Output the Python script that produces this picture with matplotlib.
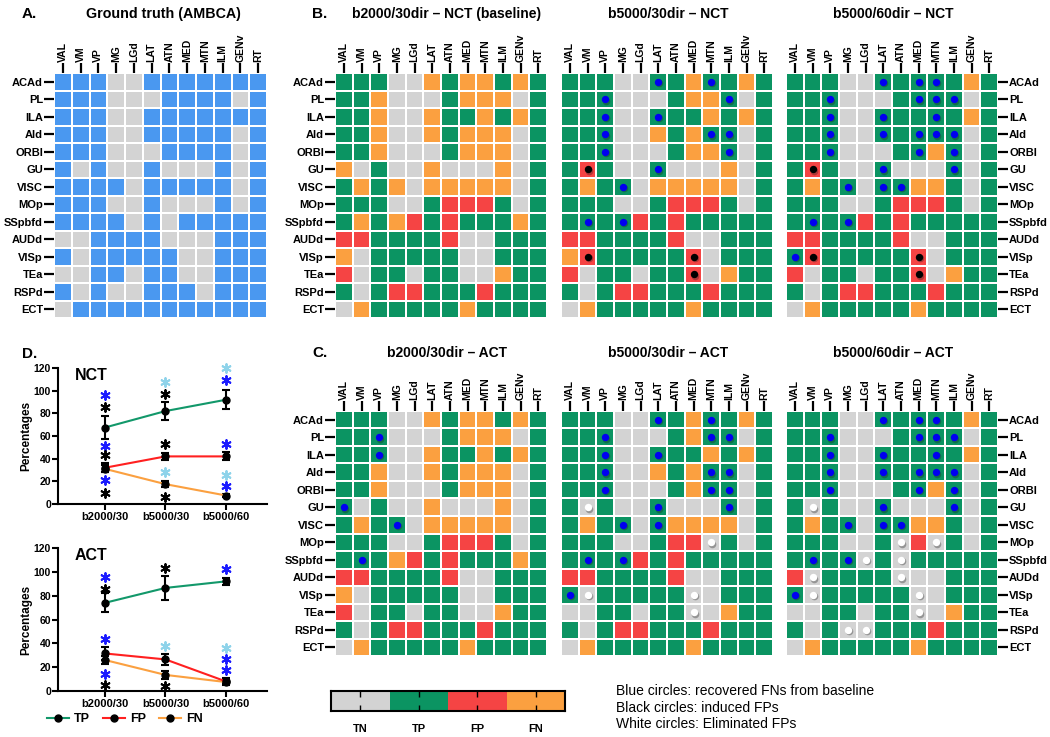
import numpy as np
import matplotlib.pyplot as plt
from matplotlib.colors import ListedColormap, BoundaryNorm
from matplotlib.lines import Line2D

plt.rcParams['font.family'] = ['Liberation Sans', 'DejaVu Sans']

W, H = 1050, 737

cols = ['VAL', 'VM', 'VP', 'MG', 'LGd', 'LAT', 'ATN', 'MED', 'MTN', 'ILM', 'GENv', 'RT']
rows = ['ACAd', 'PL', 'ILA', 'AId', 'ORBl', 'GU', 'VISC', 'MOp', 'SSpbfd',
        'AUDd', 'VISp', 'TEa', 'RSPd', 'ECT']

# ground truth (1 = projection present)
gt = ['111001111111', '111000111101', '111001111111', '111001111101',
      '111000111101', '101001000101', '111101111101', '111001000101',
      '111101011111', '001111000111', '101111100111', '001101100111',
      '101001110111', '011111111111']

# N = TN, P = TP, F = FP, O = FN
nct_2000_30 = ['PPPNNOPOOPOP', 'PPONNNPOOONP', 'PPONNOPPOPOP', 'PPONNOPOOONP',
               'PPONNNPOOONP', 'ONPNNONNNONP', 'POPONOOOOONP', 'PPPNNPFFFPNP',
               'POPOFPFPPPOP', 'FFPPPPFNNPPP', 'ONPPPPPNNPPP', 'FNPPNPPNNOPP',
               'PNPFFPPPFPPP', 'NOPPPPPOPPPP']
nct_5000_30 = ['PPPNNPPOPPOP', 'PPPNNNPOOPNP', 'PPPNNPPPOPOP', 'PPPNNOPOPPNP',
               'PPPNNNPOOPNP', 'PFPNNPNNNONP', 'POPPNOOOOONP', 'PPPNNPFFFPNP',
               'PPPPFPFPPPPP', 'FFPPPPFNNPPP', 'OFPPPPPFNPPP', 'FNPPNPPFNOPP',
               'PNPFFPPPFPPP', 'NOPPPPPOPPPP']
nct_5000_60 = ['PPPNNPPPPPOP', 'PPPNNNPPPPNP', 'PPPNNPPPPPOP', 'PPPNNPPPPPNP',
               'PPPNNNPPOPNP', 'PFPNNPNNNPNP', 'POPPNPPOOPNP', 'PPPNNPFFFPNP',
               'PPPPFPFPPPPP', 'FFPPPPFNNPPP', 'PFPPPPPFNPPP', 'FNPPNPPFNOPP',
               'PNPFFPPPFPPP', 'NOPPPPPOPPPP']
act_2000_30 = ['PPPNNOPOOPOP', 'PPPNNNPOOONP', 'PPPNNOPPOPOP', 'PPONNOPOOONP',
               'PPONNNPOOONP', 'PNPNNONNNONP', 'POPPNOOOOONP', 'PPPNNPFFFPNP',
               'PPPOFPFPPPOP', 'FFPPPPFNNPPP', 'ONPPPPPNNPPP', 'FNPPNPPNNOPP',
               'PNPFFPPPFPPP', 'NOPPPPPOPPPP']
act_5000_30 = ['PPPNNPPOPPOP', 'PPPNNNPOPPNP', 'PPPNNPPPOPOP', 'PPPNNOPOPPNP',
               'PPPNNNPOPPNP', 'PNPNNPNNNPNP', 'POPPNPOOOONP', 'PPPNNPFFNPNP',
               'PPPPFPFPPPPP', 'FFPPPPFNNPPP', 'PNPPPPPNNPPP', 'NNPPNPPNNOPP',
               'PNPFFPPPFPPP', 'NOPPPPPOPPPP']
act_5000_60 = ['PPPNNPPPPPOP', 'PPPNNNPPPPNP', 'PPPNNPPPPPOP', 'PPPNNPPPPPNP',
               'PPPNNNPPOPNP', 'PNPNNPNNNPNP', 'POPPNPPOOPNP', 'PPPNNPNFNPNP',
               'PPPPNPNPPPPP', 'FNPPPPNNNPPP', 'PNPPPPPNNPPP', 'NNPPNPPNNOPP',
               'PNPNNPPPFPPP', 'NOPPPPPOPPPP']

# circles: b = recovered FN, k = induced FP, w = eliminated FP
dots_nct_5000_30 = ['.....b..b...', '..b......b..', '..b..b......', '..b.....bb..',
                    '..b......b..', '.k...b......', '...b........', '............',
                    '.b.b........', '............', '.k.....k....', '.......k....',
                    '............', '............']
dots_nct_5000_60 = ['.....b.bb...', '..b....bbb..', '..b..b..b...', '..b..b.bbb..',
                    '..b....b.b..', '.k...b...b..', '...b.bb.....', '............',
                    '.b.b........', '............', 'bk.....k....', '.......k....',
                    '............', '............']
dots_act_2000_30 = ['............', '..b.........', '..b.........', '............',
                    '............', 'b...........', '...b........', '............',
                    '.b..........', '............', '............', '............',
                    '............', '............']
dots_act_5000_30 = ['.....b..b...', '..b.....bb..', '..b..b......', '..b.....bb..',
                    '..b.....bb..', '.w...b...b..', '...b.b......', '........w...',
                    '.b.b........', '............', 'bw.....w....', '.......w....',
                    '............', '............']
dots_act_5000_60 = ['.....b.bb...', '..b....bbb..', '..b..b..b...', '..b..b.bbb..',
                    '..b....b.b..', '.w...b...b..', '...b.bb.....', '......w.w...',
                    '.b.bw.w.....', '.w....w.....', 'bw.....w....', '.......w....',
                    '...ww.......', '............']

# panel D: percentages (mean, error)
groups = ['b2000/30', 'b5000/30', 'b5000/60']
nct_tp, nct_tp_err = [67.5, 82, 92], [10, 8, 8.5]
nct_fp, nct_fp_err = [32, 42, 42], [4, 3, 3.5]
nct_fn, nct_fn_err = [31, 17.5, 7.5], [3, 2.5, 1]
act_tp, act_tp_err = [74, 86.5, 92], [8, 10, 3]
act_fp, act_fp_err = [31.5, 26.5, 8], [5.5, 4.5, 3]
act_fn, act_fn_err = [26, 13.5, 7.5], [3, 3.5, 2]

# significance stars: (group index, height, colour key)
nct_stars = [(0, 96.5, 'b'), (0, 86, 'k'), (0, 51.5, 'b'), (0, 43, 'k'), (0, 21, 'b'), (0, 10, 'k'),
             (1, 108, 'c'), (1, 97, 'k'), (1, 53, 'k'), (1, 28, 'c'), (1, 6.5, 'k'),
             (2, 120, 'c'), (2, 109, 'b'), (2, 53, 'b'), (2, 25.5, 'c'), (2, 16, 'b')]
act_stars = [(0, 96, 'b'), (0, 86, 'k'), (0, 44, 'b'), (0, 14, 'b'), (0, 5, 'k'),
             (1, 103, 'k'), (1, 38, 'c'), (1, 4, 'k'),
             (2, 102, 'b'), (2, 36.5, 'c'), (2, 26.5, 'b'), (2, 17.5, 'b')]

GRAY = '#d3d3d3'
GREEN = '#0b9462'
RED = '#f54444'
ORANGE = '#fba040'
BLUE = '#4a98f0'
dot_colors = {'b': '#0000f0', 'k': '#000000', 'w': '#ffffff'}
star_colors = {'b': '#1a1aff', 'k': '#000000', 'c': '#8ed3ea'}

fig = plt.figure(figsize=(W / 100, H / 100), dpi=100)


def px_axes(x0, y0, x1, y1):
    return fig.add_axes([x0 / W, 1 - y1 / H, (x1 - x0) / W, (y1 - y0) / H])


def draw_grid(ax, data, dots=None, labels='left', truth=False):
    if truth:
        arr = np.array([[int(c) for c in r] for r in data])
        cmap = ListedColormap([GRAY, BLUE])
        norm = BoundaryNorm([-0.5, 0.5, 1.5], 2)
    else:
        code = {'N': 0, 'P': 1, 'F': 2, 'O': 3}
        arr = np.array([[code[c] for c in r] for r in data])
        cmap = ListedColormap([GRAY, GREEN, RED, ORANGE])
        norm = BoundaryNorm([-0.5, 0.5, 1.5, 2.5, 3.5], 4)
    ax.pcolormesh(np.arange(13), np.arange(15), arr, cmap=cmap, norm=norm,
                  edgecolors='white', linewidth=1.3)
    ax.set_xlim(0, 12)
    ax.set_ylim(14, 0)
    ax.xaxis.tick_top()
    ax.set_xticks(np.arange(12) + 0.5, cols, rotation=90, fontsize=7.5, fontweight='bold')
    ax.tick_params(axis='x', length=7, width=1.6, pad=1)
    if labels == 'left':
        ax.set_yticks(np.arange(14) + 0.5, rows, fontsize=8, fontweight='bold')
    elif labels == 'right':
        ax.yaxis.tick_right()
        ax.set_yticks(np.arange(14) + 0.5, rows, fontsize=8, fontweight='bold')
    else:
        ax.set_yticks(np.arange(14) + 0.5, [])
    ax.tick_params(axis='y', length=7 if labels else 0, width=1.6, pad=1)
    for s in ax.spines.values():
        s.set_visible(False)
    if dots:
        for i, r in enumerate(dots):
            for j, c in enumerate(r):
                if c in dot_colors:
                    ax.scatter(j + 0.56, i + 0.58, s=30, color='#222222', alpha=0.35,
                               linewidths=0, zorder=3)
                    ax.scatter(j + 0.5, i + 0.5, s=28, color=dot_colors[c],
                               linewidths=0, zorder=4)


# panel A
ax = px_axes(54, 73, 267, 318)
draw_grid(ax, gt, truth=True)
fig.text(22 / W, 1 - 14 / H, 'A.', fontsize=11, fontweight='bold', va='center')
fig.text(163 / W, 1 - 14 / H, 'Ground truth (AMBCA)', fontsize=10.3,
         fontweight='bold', ha='center', va='center')

# panels B and C
xs = [(335, 547), (561, 773), (786, 998)]
b_data = [nct_2000_30, nct_5000_30, nct_5000_60]
b_dots = [None, dots_nct_5000_30, dots_nct_5000_60]
b_titles = ['b2000/30dir – NCT (baseline)', 'b5000/30dir – NCT', 'b5000/60dir – NCT']
c_data = [act_2000_30, act_5000_30, act_5000_60]
c_dots = [dots_act_2000_30, dots_act_5000_30, dots_act_5000_60]
c_titles = ['b2000/30dir – ACT', 'b5000/30dir – ACT', 'b5000/60dir – ACT']
side = ['left', None, 'right']
b_title_x = [447, 668, 893]

for k in range(3):
    x0, x1 = xs[k]
    ax = px_axes(x0, 73, x1, 318)
    draw_grid(ax, b_data[k], b_dots[k], labels=side[k])
    fig.text(b_title_x[k] / W, 1 - 14 / H, b_titles[k],
             fontsize=10, fontweight='bold', ha='center', va='center')
    ax = px_axes(x0, 411, x1, 656)
    draw_grid(ax, c_data[k], c_dots[k], labels=side[k])
    fig.text(b_title_x[k] / W, 1 - 353 / H, c_titles[k],
             fontsize=10, fontweight='bold', ha='center', va='center')

fig.text(312 / W, 1 - 14 / H, 'B.', fontsize=11, fontweight='bold', va='center')
fig.text(312 / W, 1 - 353 / H, 'C.', fontsize=11, fontweight='bold', va='center')

# panel D
fig.text(22 / W, 1 - 354 / H, 'D.', fontsize=11, fontweight='bold', va='center')


def draw_lines(ax, series, stars, name):
    x = np.arange(1, 4)
    for mean, err, color in series:
        ax.errorbar(x, mean, yerr=err, color=color, lw=1.5, marker='o', ms=5,
                    mfc='k', mec='k', ecolor='k', elinewidth=1.5, capsize=3,
                    capthick=1.5, zorder=3)
    for gi, y, ck in stars:
        ax.scatter(gi + 1, y, marker=(6, 2, 0), s=40, color=star_colors[ck],
                   linewidths=1.4, clip_on=False, zorder=4)
    ax.set_xlim(0.223, 3.678)
    ax.set_ylim(0, 120)
    ax.set_yticks(np.arange(0, 121, 20))
    ax.set_xticks(x, groups)
    for lab in ax.get_xticklabels() + ax.get_yticklabels():
        lab.set_fontweight('bold')
    ax.tick_params(axis='y', labelsize=7.5, length=4, width=1.5, pad=1)
    ax.tick_params(axis='x', labelsize=8, length=4, width=1.5, pad=2)
    ax.spines[['top', 'right']].set_visible(False)
    ax.spines[['left', 'bottom']].set_linewidth(1.5)
    ax.set_ylabel('Percentages', fontsize=8.5, fontweight='bold')
    ax.yaxis.set_label_coords(-0.125, 0.5)
    ax.text(0.08, 1.0, name, transform=ax.transAxes, fontsize=11.5,
            fontweight='bold', va='top')


ax = px_axes(58, 368, 267, 504)
draw_lines(ax, [(nct_fn, nct_fn_err, ORANGE), (nct_fp, nct_fp_err, '#ff2020'),
                (nct_tp, nct_tp_err, '#12986a')], nct_stars, 'NCT')
ax = px_axes(58, 548, 267, 691)
draw_lines(ax, [(act_fn, act_fn_err, ORANGE), (act_fp, act_fp_err, '#ff2020'),
                (act_tp, act_tp_err, '#12986a')], act_stars, 'ACT')

handles = [Line2D([], [], color='#12986a', marker='o', mfc='k', mec='k', ms=5, lw=1.5, label='TP'),
           Line2D([], [], color='#ff2020', marker='o', mfc='k', mec='k', ms=5, lw=1.5, label='FP'),
           Line2D([], [], color=ORANGE, marker='o', mfc='k', mec='k', ms=5, lw=1.5, label='FN')]
fig.legend(handles=handles, loc='center', bbox_to_anchor=(125 / W, 1 - 719 / H), ncol=3,
           frameon=False, handlelength=1.8, columnspacing=1.0, handletextpad=0.4,
           borderpad=0.1, prop={'weight': 'bold', 'size': 9})

# colour key
cax = px_axes(331, 691, 565, 711)
cax.imshow([[0, 1, 2, 3]], cmap=ListedColormap([GRAY, GREEN, RED, ORANGE]),
           extent=(0, 4, 0, 1), aspect='auto')
cax.set_xticks(np.arange(4) + 0.5, ['TN', 'TP', 'FP', 'FN'])
for lab in cax.get_xticklabels():
    lab.set_fontweight('bold')
cax.tick_params(axis='x', direction='in', top=True, length=4, width=1,
                labelsize=8, pad=9)
cax.set_yticks([])
for s in cax.spines.values():
    s.set_linewidth(1.5)

notes = ['Blue circles: recovered FNs from baseline', 'Black circles: induced FPs',
         'White circles: Eliminated FPs']
for i, t in enumerate(notes):
    fig.text(616 / W, 1 - (691 + 16.5 * i) / H, t, fontsize=10, va='center',
             family=['Liberation Sans Narrow', 'Liberation Sans'])

fig.savefig('out.png', dpi=100)
